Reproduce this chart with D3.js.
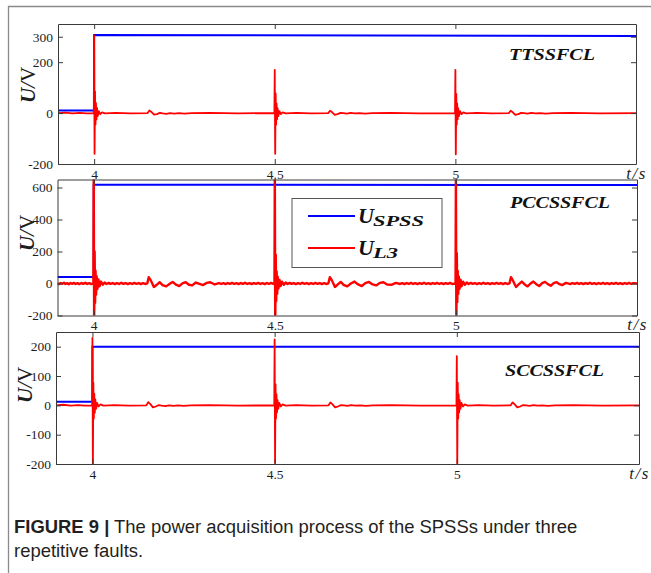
<!DOCTYPE html>
<html><head><meta charset="utf-8">
<script src="https://cdn.jsdelivr.net/npm/d3@7"></script>
<style>body{margin:0;background:#fff}svg{display:block}</style>
</head><body>
<svg id="c" width="651" height="573"></svg>
<script>
// ---------- data ----------
const xDomain = [3.9, 5.5];
const xTicks = [4, 4.5, 5];
const xTickLabels = ["4", "4.5", "5"];
const panelNames = ["TTSSFCL", "PCCSSFCL", "SCCSSFCL"];
const yDomain1 = [-200, 350];
const yDomain2 = [-200, 650];
const yDomain3 = [-200, 250];
const yTicks1 = [-200, 0, 200, 300];
const yTicks2 = [-200, 0, 200, 400, 600];
const yTicks3 = [-200, -100, 0, 100, 200];
const seriesNames = ["SPSS", "L3"];

// U_SPSS  [t, value]
const blue1 = [[3.9,10],[4.0,10],[4.0,307],[5.5,303]];
const blue2 = [[3.9,40],[4.0,40],[4.0,617],[5.5,616]];
const blue3 = [[3.9,12],[4.0,12],[4.0,200],[5.5,200]];

// U_L3  [t, value]
const red1 = [
[3.9,0],[3.92,2],[3.94,-1],[3.96,1],[3.98,-1],[3.999,0],
[4.0,305],[4.0012,-160],[4.0025,85],[4.0038,-45],[4.005,40],[4.0065,-25],[4.008,20],[4.010,-12],[4.013,8],[4.017,-4],[4.022,3],[4.03,-1],
[4.06,1],[4.1,-1],[4.148,0],
[4.153,10],[4.159,4],[4.166,-6],[4.174,-4],[4.182,1],[4.19,-1],[4.2,-3],[4.21,0],[4.222,-2],[4.235,0],[4.25,-2],[4.27,0],
[4.32,1],[4.4,-1],[4.499,0],
[4.5,170],[4.5012,-160],[4.5025,77],[4.5038,-45],[4.505,38],[4.5065,-24],[4.508,18],[4.51,-12],[4.513,8],[4.517,-4],[4.522,3],[4.53,-1],
[4.56,1],[4.6,-1],[4.648,0],
[4.653,9],[4.659,3],[4.666,-7],[4.674,-4],[4.682,1],[4.69,0],[4.7,-2],[4.71,1],[4.722,-1],[4.735,0],[4.75,-2],[4.77,0],
[4.82,1],[4.9,-1],[4.999,0],
[5.0,170],[5.0012,-162],[5.0025,75],[5.0038,-45],[5.005,38],[5.0065,-24],[5.008,18],[5.01,-12],[5.013,8],[5.017,-4],[5.022,3],[5.03,-1],
[5.06,1],[5.1,-1],[5.148,0],
[5.153,9],[5.159,3],[5.166,-7],[5.174,-4],[5.182,1],[5.19,0],[5.2,-2],[5.21,1],[5.222,-1],[5.235,0],[5.25,-2],[5.27,0],
[5.32,1],[5.4,-1],[5.5,0]
];
const red2 = [
[3.9,2],[3.904,-4],[3.909,3],[3.913,-2],[3.918,5],[3.922,-3],[3.927,2],[3.931,-5],[3.936,3],[3.94,-2],[3.945,4],[3.95,-3],[3.955,2],[3.96,-4],[3.966,3],[3.971,-2],[3.977,5],[3.982,-3],[3.988,2],[3.993,-4],[3.999,0],
[4.0,700],[4.0012,-260],[4.0025,200],[4.0038,-120],[4.005,80],[4.0065,-70],[4.008,45],[4.010,-35],[4.013,25],[4.016,-18],[4.02,12],[4.025,-8],[4.03,6],
[4.035,-3],[4.041,4],[4.046,-2],[4.052,3],[4.058,-4],[4.064,2],[4.07,-3],[4.076,5],[4.082,-2],[4.088,3],[4.094,-4],[4.1,2],[4.106,-3],[4.112,4],[4.118,-2],[4.124,3],[4.13,-4],[4.136,2],[4.142,-3],[4.148,1],
[4.152,40],[4.158,18],[4.166,-22],[4.174,-8],[4.182,8],[4.19,-10],[4.2,-18],[4.21,-2],[4.218,10],[4.226,-6],[4.236,-16],[4.246,2],[4.254,8],[4.263,-8],[4.272,-12],[4.282,6],[4.292,-2],[4.302,-10],[4.312,4],[4.322,8],[4.334,-6],[4.346,3],
[4.352,-3],[4.358,2],[4.364,-4],[4.37,3],[4.376,-2],[4.382,4],[4.388,-3],[4.394,2],[4.4,-4],[4.406,3],[4.412,-2],[4.418,5],[4.424,-3],[4.43,2],[4.436,-4],[4.442,3],[4.448,-2],[4.454,4],[4.46,-3],[4.466,2],[4.472,-4],[4.478,3],[4.484,-2],[4.49,4],[4.496,-3],[4.499,0],
[4.5,700],[4.5012,-260],[4.5025,180],[4.5038,-110],[4.505,75],[4.5065,-65],[4.508,42],[4.51,-32],[4.513,22],[4.516,-16],[4.52,11],[4.525,-8],[4.53,6],
[4.535,-3],[4.541,4],[4.546,-2],[4.552,3],[4.558,-4],[4.564,2],[4.57,-3],[4.576,5],[4.582,-2],[4.588,3],[4.594,-4],[4.6,2],[4.606,-3],[4.612,4],[4.618,-2],[4.624,3],[4.63,-4],[4.636,2],[4.642,-3],[4.648,1],
[4.652,40],[4.658,18],[4.666,-22],[4.674,-6],[4.682,10],[4.69,-8],[4.7,-18],[4.71,0],[4.72,12],[4.73,-6],[4.74,-16],[4.75,2],[4.76,10],[4.77,-6],[4.78,-12],[4.79,4],[4.8,8],[4.81,-6],[4.822,-8],[4.834,4],[4.846,-3],
[4.852,2],[4.858,-4],[4.864,3],[4.87,-2],[4.876,4],[4.882,-3],[4.888,2],[4.894,-4],[4.9,3],[4.906,-2],[4.912,5],[4.918,-3],[4.924,2],[4.93,-4],[4.936,3],[4.942,-2],[4.948,4],[4.954,-3],[4.96,2],[4.966,-4],[4.972,3],[4.978,-2],[4.984,4],[4.99,-3],[4.999,0],
[5.0,700],[5.0012,-260],[5.0025,190],[5.0038,-115],[5.005,78],[5.0065,-66],[5.008,44],[5.01,-33],[5.013,23],[5.016,-17],[5.02,11],[5.025,-8],[5.03,6],
[5.035,-3],[5.041,4],[5.046,-2],[5.052,3],[5.058,-4],[5.064,2],[5.07,-3],[5.076,5],[5.082,-2],[5.088,3],[5.094,-4],[5.1,2],[5.106,-3],[5.112,4],[5.118,-2],[5.124,3],[5.13,-4],[5.136,2],[5.142,-3],[5.148,1],
[5.152,40],[5.158,16],[5.166,-22],[5.174,-4],[5.182,12],[5.19,-6],[5.198,-18],[5.206,0],[5.214,12],[5.222,-4],[5.23,-16],[5.238,2],[5.246,10],[5.254,-4],[5.262,-14],[5.27,2],[5.278,8],[5.286,-4],[5.294,-10],[5.304,4],[5.316,-4],
[5.322,3],[5.328,-2],[5.334,4],[5.34,-3],[5.346,2],[5.352,-4],[5.358,3],[5.364,-2],[5.37,5],[5.376,-3],[5.382,2],[5.388,-4],[5.394,3],[5.4,-2],[5.406,4],[5.412,-3],[5.418,2],[5.424,-4],[5.43,3],[5.436,-2],[5.442,4],[5.448,-3],[5.454,2],[5.46,-4],[5.466,3],[5.472,-2],[5.478,4],[5.484,-3],[5.49,2],[5.5,0]
];
const red3 = [
[3.9,0],[3.92,2],[3.94,-1],[3.96,1],[3.98,-1],[3.999,0],
[4.0,230],[4.0012,-215],[4.0025,77],[4.0038,-45],[4.005,40],[4.0065,-25],[4.008,20],[4.010,-12],[4.013,8],[4.017,-4],[4.022,3],[4.03,-1],
[4.06,1],[4.1,-1],[4.148,0],
[4.153,11],[4.159,4],[4.166,-7],[4.174,-4],[4.182,1],[4.19,-1],[4.2,-3],[4.21,0],[4.222,-2],[4.235,0],[4.25,-2],[4.27,0],
[4.32,1],[4.4,-1],[4.499,0],
[4.5,225],[4.5012,-197],[4.5025,72],[4.5038,-45],[4.505,38],[4.5065,-24],[4.508,18],[4.51,-12],[4.513,8],[4.517,-4],[4.522,3],[4.53,-1],
[4.56,1],[4.6,-1],[4.648,0],
[4.653,10],[4.659,3],[4.666,-7],[4.674,-4],[4.682,1],[4.69,0],[4.7,-2],[4.71,1],[4.722,-1],[4.735,0],[4.75,-2],[4.77,0],
[4.82,1],[4.9,-1],[4.999,0],
[5.0,168],[5.0012,-215],[5.0025,77],[5.0038,-45],[5.005,38],[5.0065,-24],[5.008,18],[5.01,-12],[5.013,8],[5.017,-4],[5.022,3],[5.03,-1],
[5.06,1],[5.1,-1],[5.148,0],
[5.153,10],[5.159,3],[5.166,-7],[5.174,-4],[5.182,1],[5.19,0],[5.2,-2],[5.21,1],[5.222,-1],[5.235,0],[5.25,-2],[5.27,0],
[5.32,1],[5.4,-1],[5.5,0]
];
const captionBold = "FIGURE 9 |";
const captionRest = " The power acquisition process of the SPSSs under three";
const captionLine2 = "repetitive faults.";

// ---------- drawing ----------
const svg = d3.select("#c");
const serif = "'Liberation Serif','Times New Roman',serif";
const axisCol = "#3a3a3a";

// outer frame
svg.append("path").attr("d","M8.5,573 V6.5 H651").attr("fill","none")
  .attr("stroke","#8a8a8a").attr("stroke-width",1.3);

const panels = [
  {l:58, r:636, t:24, b:164, yd:yDomain1, yt:yTicks1, blue:blue1, red:red1, rw:1.8,
   name:panelNames[0], nx:509, ny:59.5, nw:86, lab:[28,85]},
  {l:57.5, r:637, t:179.5, b:315.5, yd:yDomain2, yt:yTicks2, blue:blue2, red:red2, rw:2.4,
   name:panelNames[1], nx:510, ny:208, nw:100, lab:[27,233]},
  {l:56, r:639, t:332, b:464, yd:yDomain3, yt:yTicks3, blue:blue3, red:red3, rw:1.8,
   name:panelNames[2], nx:505, ny:376, nw:99, lab:[25,385]}
];

panels.forEach((p,i)=>{
  const x = d3.scaleLinear().domain(xDomain).range([p.l,p.r]);
  const y = d3.scaleLinear().domain(p.yd).range([p.b,p.t]);
  const g = svg.append("g");
  const cid = "clip"+i;
  svg.append("clipPath").attr("id",cid).append("rect")
    .attr("x",p.l).attr("y",p.t).attr("width",p.r-p.l).attr("height",p.b-p.t);
  const line = d3.line().x(d=>x(d[0])).y(d=>y(d[1]));
  const plot = g.append("g").attr("clip-path",`url(#${cid})`);
  plot.append("path").datum(p.blue).attr("d",line).attr("fill","none")
    .attr("stroke","#0000ff").attr("stroke-width",2);
  plot.append("path").datum(p.red).attr("d",line).attr("fill","none")
    .attr("stroke","#ff0000").attr("stroke-width",p.rw).attr("stroke-linejoin","round");

  const styleAxis = sel=>{
    sel.selectAll("path,line").attr("stroke",axisCol).attr("stroke-width",1);
    sel.selectAll("text").attr("font-family",serif).attr("font-size",13.5).attr("fill","#1e1e1e");
  };
  g.append("g").attr("transform",`translate(0,${p.b})`)
    .call(d3.axisBottom(x).tickValues(xTicks).tickFormat((d,j)=>xTickLabels[j]).tickSize(-5).tickSizeOuter(0).tickPadding(5))
    .call(styleAxis);
  g.append("g").attr("transform",`translate(0,${p.t})`)
    .call(d3.axisTop(x).tickValues(xTicks).tickFormat("").tickSize(-5).tickSizeOuter(0))
    .call(styleAxis);
  g.append("g").attr("transform",`translate(${p.l},0)`)
    .call(d3.axisLeft(y).tickValues(p.yt).tickFormat(d=>d).tickSize(-5).tickSizeOuter(0).tickPadding(5))
    .call(styleAxis);
  g.append("g").attr("transform",`translate(${p.r},0)`)
    .call(d3.axisRight(y).tickValues(p.yt).tickFormat("").tickSize(-5).tickSizeOuter(0))
    .call(styleAxis);

  // t/s label
  g.append("text").attr("x",p.r+0.5).attr("y",p.b+14.5).attr("text-anchor","middle")
    .attr("font-family",serif).attr("font-style","italic").attr("font-size",17)
    .attr("fill","#1e1e1e").attr("letter-spacing",1.5).text("t/s");

  // y label
  const yl = g.append("text").attr("transform",`translate(${p.lab[0]},${p.lab[1]}) rotate(-90)`)
    .attr("text-anchor","middle").attr("dominant-baseline","central")
    .attr("font-family",serif).attr("font-size",21).attr("fill","#1e1e1e");
  yl.append("tspan").attr("font-style","italic").attr("font-weight","bold").text("U");
  yl.append("tspan").attr("font-style","italic").text("/");
  yl.append("tspan").text("V");

  // panel name
  g.append("text").attr("x",p.nx).attr("y",p.ny)
    .attr("font-family",serif).attr("font-style","italic").attr("font-weight","bold")
    .attr("font-size",16).attr("fill","#111")
    .attr("textLength",p.nw).attr("lengthAdjust","spacingAndGlyphs").text(p.name);
});

// legend
const lg = svg.append("g");
lg.append("rect").attr("x",292).attr("y",198.5).attr("width",150).attr("height",69)
  .attr("fill","#fff").attr("stroke","#555").attr("stroke-width",1);
[["#0000ff",216,222.5,seriesNames[0],51],["#ff0000",248,255,seriesNames[1],25]].forEach(([c,ly,ty,sub,sw])=>{
  lg.append("line").attr("x1",308).attr("x2",355).attr("y1",ly).attr("y2",ly)
    .attr("stroke",c).attr("stroke-width",2);
  lg.append("text").attr("x",358).attr("y",ty).attr("font-family",serif)
    .attr("font-style","italic").attr("font-weight","bold").attr("font-size",22)
    .attr("fill","#111").text("U");
  lg.append("text").attr("x",373).attr("y",ty+3).attr("font-family",serif)
    .attr("font-style","italic").attr("font-weight","bold").attr("font-size",14)
    .attr("fill","#111").attr("textLength",sw).attr("lengthAdjust","spacingAndGlyphs").text(sub);
});

// caption
const sans = "'Liberation Sans',Arial,Helvetica,sans-serif";
const cap = svg.append("text").attr("x",14).attr("y",533).attr("font-family",sans)
  .attr("font-size",17).attr("fill","#231f20");
cap.append("tspan").attr("font-weight","bold").text(captionBold);
cap.append("tspan").text(captionRest);
const w = cap.node().getComputedTextLength();
const fs = 17*564/w;
cap.attr("font-size",fs);
svg.append("text").attr("x",14).attr("y",557).attr("font-family",sans)
  .attr("font-size",fs).attr("fill","#231f20").text(captionLine2);
</script>
</body></html>
